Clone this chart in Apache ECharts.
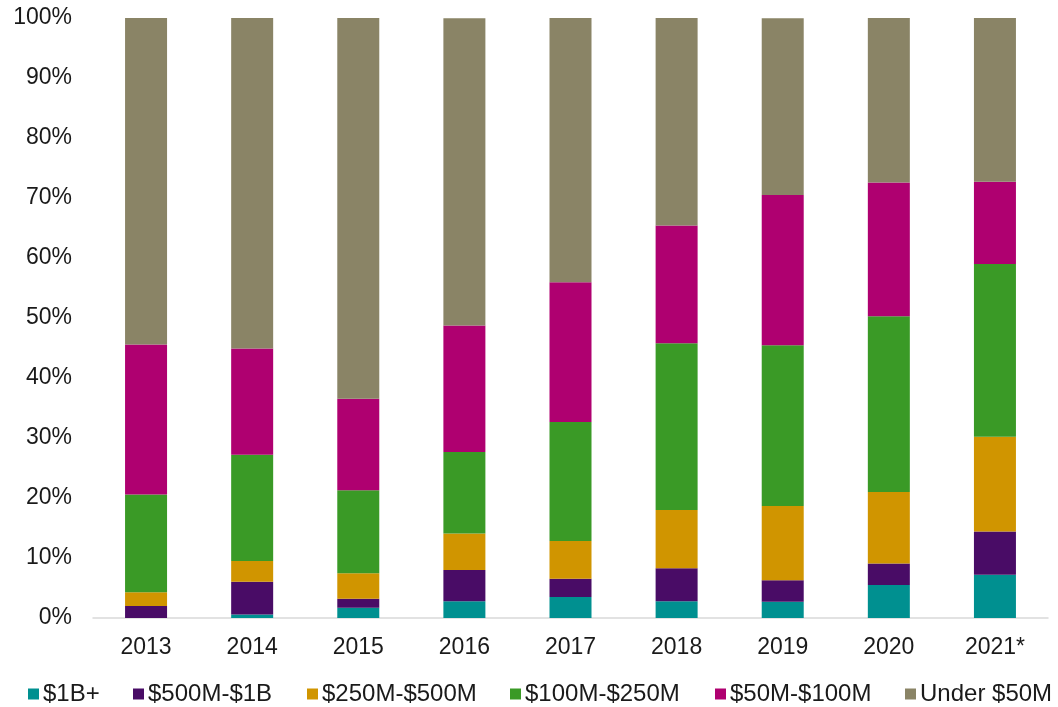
<!DOCTYPE html>
<html>
<head>
<meta charset="utf-8">
<script src="https://cdn.jsdelivr.net/npm/echarts@6/dist/echarts.min.js"></script>
<style>html,body{margin:0;padding:0;background:#fff}#c{width:1058px;height:707px}</style>
</head>
<body>
<div id="c"></div>
<script>
const categories = ['2013','2014','2015','2016','2017','2018','2019','2020','2021*'];
const seriesNames = ['$1B+','$500M-$1B','$250M-$500M','$100M-$250M','$50M-$100M','Under $50M'];
const s1B = [0, 0.6, 1.7, 2.8, 3.5, 2.8, 2.7, 5.5, 7.2];
const s500M = [2.0, 5.45, 1.5, 5.2, 3.05, 5.5, 3.6, 3.6, 7.2];
const s250M = [2.3, 3.45, 4.25, 6.1, 6.3, 9.7, 12.35, 11.9, 15.8];
const s100M = [16.3, 17.7, 13.85, 13.55, 19.8, 27.8, 26.8, 29.3, 28.8];
const s50M = [25.0, 17.7, 15.25, 21.1, 23.3, 19.6, 25.05, 22.3, 13.7];
const sUnder = [54.4, 55.1, 63.45, 51.2, 44.1, 34.6, 29.45, 27.4, 27.3];
const yTicks = [0,10,20,30,40,50,60,70,80,90,100];

const colors = ['#009090','#490C66','#D09500','#3A9A26','#AF0070','#8A8466'];
const allData = [s1B, s500M, s250M, s100M, s50M, sUnder];
const font = 'Arial, "Liberation Sans", sans-serif';
const legendLeft = [23, 128, 302, 505, 710, 900];

const chart = echarts.init(document.getElementById('c'));
chart.setOption({
  animation: false,
  color: colors,
  grid: { left: 93, right: 10, top: 18, bottom: 89 },
  legend: seriesNames.map((n, i) => ({
    top: 677, left: legendLeft[i],
    itemWidth: 11, itemHeight: 11,
    icon: 'rect',
    textStyle: { fontFamily: font, fontSize: 24, color: '#1a1a1a', padding: [0,0,0,-1] },
    data: [n]
  })),
  xAxis: {
    type: 'category', data: categories,
    axisLine: { lineStyle: { color: '#d9d9d9', width: 1.5 } },
    axisTick: { show: false },
    axisLabel: { fontFamily: font, fontSize: 23, color: '#1a1a1a', margin: 18 }
  },
  yAxis: {
    type: 'value', min: 0, max: 100, interval: 10,
    splitLine: { show: false },
    axisLine: { show: false },
    axisTick: { show: false },
    axisLabel: { fontFamily: font, fontSize: 23, color: '#1a1a1a', margin: 21, formatter: '{value}%', padding: [3,0,0,0] }
  },
  series: seriesNames.map((n, i) => ({
    name: n, type: 'bar', stack: 'total', barWidth: 42,
    data: allData[i]
  }))
});
</script>
</body>
</html>
